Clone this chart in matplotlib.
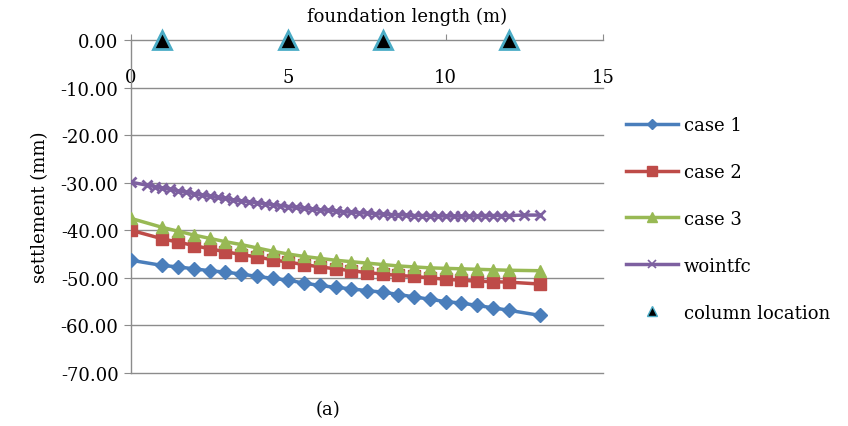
import matplotlib
matplotlib.use("Agg")
import matplotlib.pyplot as plt
from matplotlib.lines import Line2D

# ---- data ----
x_case = [0, 1, 1.5, 2, 2.5, 3, 3.5, 4, 4.5, 5, 5.5, 6, 6.5, 7, 7.5, 8,
          8.5, 9, 9.5, 10, 10.5, 11, 11.5, 12, 13]
case1 = [-46.3, -47.4, -47.7, -48.1, -48.5, -48.8, -49.2, -49.7, -50.1, -50.5,
         -51.1, -51.6, -52.0, -52.3, -52.7, -53.0, -53.5, -54.0, -54.5, -55.0,
         -55.3, -55.8, -56.3, -56.8, -57.9]
case2 = [-40.0, -41.8, -42.5, -43.2, -43.9, -44.5, -45.1, -45.6, -46.2, -46.7,
         -47.2, -47.7, -48.1, -48.5, -48.9, -49.2, -49.5, -49.7, -50.0, -50.3,
         -50.5, -50.7, -50.8, -50.9, -51.3]
case3 = [-37.5, -39.4, -40.2, -41.0, -41.7, -42.4, -43.0, -43.7, -44.4, -45.0,
         -45.5, -45.9, -46.3, -46.6, -46.9, -47.2, -47.5, -47.7, -47.9, -48.0,
         -48.1, -48.2, -48.3, -48.4, -48.5]

x_wo = [0, 0.5, 0.75, 1.0, 1.25, 1.5, 1.75, 2.0, 2.25, 2.5, 2.75, 3.0, 3.25,
        3.5, 3.75, 4.0, 4.25, 4.5, 4.75, 5.0, 5.25, 5.5, 5.75, 6.0, 6.25, 6.5,
        6.75, 7.0, 7.25, 7.5, 7.75, 8.0, 8.25, 8.5, 8.75, 9.0, 9.25, 9.5, 9.75,
        10.0, 10.25, 10.5, 10.75, 11.0, 11.25, 11.5, 11.75, 12.0, 12.5, 13.0]
wointfc = [-29.9, -30.5, -30.8, -31.1, -31.4, -31.7, -32.0, -32.3, -32.6, -32.8,
           -33.1, -33.3, -33.6, -33.8, -34.0, -34.2, -34.4, -34.6, -34.8, -35.0,
           -35.2, -35.4, -35.5, -35.7, -35.8, -35.9, -36.1, -36.2, -36.3, -36.4,
           -36.5, -36.6, -36.7, -36.7, -36.8, -36.9, -36.9, -36.9, -37.0, -37.0,
           -37.0, -37.0, -37.0, -37.0, -36.9, -36.9, -36.9, -36.9, -36.8, -36.8]

col_x = [1, 5, 8, 12]
col_y = [0, 0, 0, 0]

series_names = ["case 1", "case 2", "case 3", "wointfc", "column location"]
x_ticks = [0, 5, 10, 15]
y_ticks = [0, -10, -20, -30, -40, -50, -60, -70]

# ---- style ----
FONT = "DejaVu Serif"
plt.rcParams["font.family"] = [FONT, "DejaVu Sans"]
blue, red, green, purple = "#4A7EBB", "#BE4B48", "#98B954", "#7D60A0"
teal = "#4BACC6"
gridc = "#8C8C8C"

fig = plt.figure(figsize=(8.48, 4.27), dpi=100)
W, H = 848, 427
ax = fig.add_axes([131 / W, 1 - 374 / H, (603 - 131) / W, (374 - 41) / H])

ax.set_xlim(0, 15)
ax.set_ylim(-70, 0)

lw = 2.5
l1, = ax.plot(x_case, case1, color=blue, lw=lw, marker="D", ms=7, zorder=3)
l2, = ax.plot(x_case, case2, color=red, lw=lw, marker="s", ms=8, zorder=3)
l3, = ax.plot(x_case, case3, color=green, lw=lw, marker="^", ms=9, zorder=3)
l4, = ax.plot(x_wo, wointfc, color=purple, lw=lw, marker="x", ms=7, mew=2.0, zorder=3)
ax.plot(col_x, col_y, ls="none", marker="^", ms=13, mfc="black", mec=teal,
        mew=2, clip_on=False, zorder=5)

# grid & spines
ax.set_yticks(y_ticks)
ax.set_yticklabels([f"{v:.2f}" for v in y_ticks], fontsize=13)
for v in y_ticks[1:]:
    ax.axhline(v, color=gridc, lw=1.0, zorder=1, clip_on=False)
for s in ["bottom", "right"]:
    ax.spines[s].set_visible(False)
for s in ["top", "left"]:
    ax.spines[s].set_color(gridc)
    ax.spines[s].set_linewidth(1.0)
ax.tick_params(axis="y", direction="out", length=5, color=gridc, pad=4)

ax.xaxis.tick_top()
ax.set_xticks(x_ticks)
ax.set_xticklabels([str(v) for v in x_ticks], fontsize=13)
ax.tick_params(axis="x", direction="out", length=4, color=gridc, pad=-37)

ax.set_ylabel("settlement (mm)", fontsize=13, labelpad=8)
fig.text(407 / W, 1 - 17 / H, "foundation length (m)", ha="center", va="center", fontsize=13)
fig.text(328 / W, 1 - 410 / H, "(a)", ha="center", va="center", fontsize=13)

handles = [
    Line2D([], [], color=blue, lw=lw, marker="D", ms=5),
    Line2D([], [], color=red, lw=lw, marker="s", ms=6.5),
    Line2D([], [], color=green, lw=lw, marker="^", ms=6.5),
    Line2D([], [], color=purple, lw=lw, marker="x", ms=6, mew=1.2),
    Line2D([], [], ls="none", marker="^", ms=7, mfc="black", mec=teal, mew=1),
]
leg = fig.legend(handles, series_names, loc="upper left",
                 bbox_to_anchor=(626 / W, 1 - 117 / H), frameon=False,
                 fontsize=13, handlelength=2.9, handletextpad=0.3,
                 labelspacing=1.6, borderpad=0, borderaxespad=0)

fig.savefig("out.png", dpi=100)
